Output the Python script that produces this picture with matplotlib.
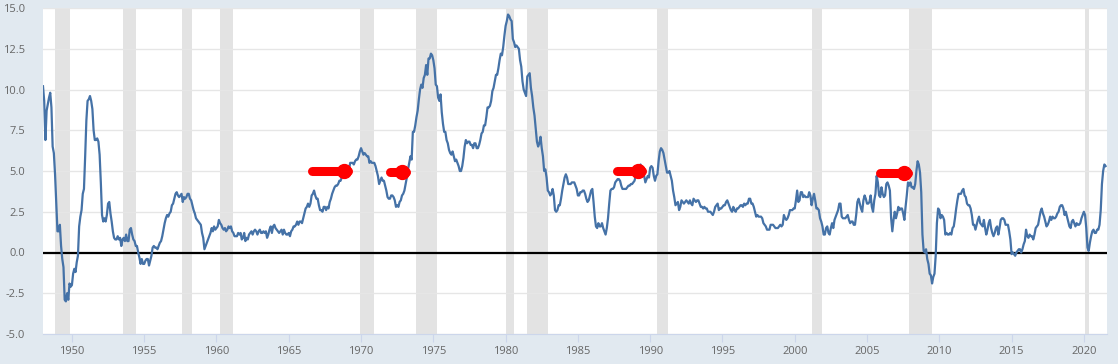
import matplotlib
matplotlib.use("Agg")
import matplotlib.pyplot as plt
import numpy as np

# CPI, percent change from a year ago, monthly from Jan 1948
cpi_1940s = [
    10.2, 9.3, 6.9, 8.7, 9.1, 9.5, 9.8, 8.9, 6.5, 6.1, 4.8, 3.0,   # 1948
    1.3, 1.3, 1.7, 0.4, -0.4, -0.9, -2.9, -3.0, -2.5, -2.9, -1.9, -2.1,  # 1949
]
cpi_1950s = [
    -2.0, -1.3, -1.0, -1.2, -0.6, -0.2, 1.6, 2.2, 2.6, 3.6, 3.9, 5.9,
    8.1, 9.3, 9.4, 9.6, 9.3, 8.8, 7.5, 6.9, 6.9, 7.0, 6.8, 6.0,
    4.3, 2.3, 1.9, 2.1, 1.9, 2.3, 3.0, 3.1, 2.4, 1.9, 1.3, 0.9,
    0.8, 0.8, 1.0, 0.8, 0.9, 0.4, 0.8, 0.9, 0.7, 1.1, 0.7, 0.7,
    1.4, 1.5, 1.1, 0.8, 0.7, 0.4, 0.4, 0.0, -0.3, -0.7, -0.4, -0.7,
    -0.7, -0.5, -0.4, -0.4, -0.8, -0.5, -0.2, 0.3, 0.4, 0.3, 0.3, 0.2,
    0.4, 0.6, 0.7, 1.0, 1.4, 1.8, 2.1, 2.3, 2.2, 2.4, 2.5, 2.9,
    3.0, 3.3, 3.6, 3.7, 3.5, 3.4, 3.5, 3.6, 3.1, 3.4, 3.3, 3.4,
    3.6, 3.6, 3.3, 3.2, 2.9, 2.6, 2.4, 2.1, 2.0, 1.9, 1.8, 1.7,
    1.2, 0.9, 0.2, 0.4, 0.6, 0.8, 1.0, 1.2, 1.5, 1.3, 1.6, 1.4,
]
cpi_1960s = [
    1.5, 1.6, 2.0, 1.8, 1.7, 1.5, 1.4, 1.5, 1.3, 1.4, 1.6, 1.5,
    1.6, 1.3, 1.2, 1.0, 1.0, 1.0, 1.2, 1.1, 1.2, 0.8, 0.9, 1.2,
    0.7, 0.9, 0.8, 1.1, 1.2, 1.3, 1.1, 1.3, 1.4, 1.3, 1.1, 1.3,
    1.4, 1.2, 1.2, 1.3, 1.2, 1.3, 0.9, 1.1, 1.4, 1.6, 1.2, 1.6,
    1.7, 1.5, 1.4, 1.3, 1.2, 1.3, 1.4, 1.1, 1.4, 1.2, 1.1, 1.1,
    1.2, 1.0, 1.3, 1.4, 1.6, 1.6, 1.7, 1.9, 1.7, 1.9, 1.9, 1.8,
    2.1, 2.4, 2.7, 2.8, 3.0, 2.8, 3.0, 3.5, 3.6, 3.8, 3.5, 3.3,
    3.3, 2.9, 2.6, 2.6, 2.5, 2.8, 2.8, 2.6, 2.8, 2.7, 3.1, 3.3,
    3.6, 3.8, 4.0, 4.1, 4.1, 4.2, 4.4, 4.4, 4.6, 4.7, 4.8, 4.8,
    4.7, 4.7, 5.1, 5.5, 5.5, 5.5, 5.4, 5.6, 5.7, 5.7, 5.9, 6.2,
]
cpi_1970s = [
    6.4, 6.2, 6.0, 6.1, 6.0, 5.9, 5.9, 5.5, 5.6, 5.5, 5.5, 5.5,
    5.3, 5.0, 4.7, 4.2, 4.4, 4.6, 4.4, 4.4, 4.1, 3.8, 3.4, 3.3,
    3.3, 3.5, 3.5, 3.4, 3.2, 2.8, 2.9, 2.8, 3.1, 3.2, 3.5, 3.6,
    3.8, 4.2, 4.6, 5.1, 5.5, 5.9, 5.7, 7.4, 7.4, 7.8, 8.3, 8.7,
    9.4, 10.0, 10.3, 10.1, 10.7, 10.9, 11.5, 10.9, 11.9, 11.9, 12.2, 12.1,
    11.8, 11.3, 10.3, 10.2, 9.5, 9.3, 9.7, 8.6, 7.9, 7.4, 7.4, 6.9,
    6.7, 6.3, 6.1, 6.0, 6.2, 5.9, 5.6, 5.7, 5.5, 5.3, 5.0, 5.0,
    5.3, 5.8, 6.5, 6.9, 6.7, 6.8, 6.8, 6.6, 6.6, 6.4, 6.7, 6.7,
    6.4, 6.4, 6.6, 6.9, 7.3, 7.4, 7.8, 7.8, 8.3, 8.9, 8.9, 9.0,
    9.3, 9.9, 10.1, 10.5, 10.9, 10.9, 11.3, 11.8, 12.2, 12.1, 12.6, 13.3,
]
cpi_1980s = [
    13.9, 14.2, 14.6, 14.5, 14.3, 14.2, 13.1, 12.9, 12.6, 12.7, 12.6, 12.5,
    11.8, 11.4, 10.5, 10.0, 9.8, 9.6, 10.8, 10.9, 11.0, 10.1, 9.6, 8.9,
    8.4, 7.6, 6.8, 6.5, 6.7, 7.1, 6.4, 5.9, 5.0, 5.1, 4.6, 3.8,
    3.7, 3.5, 3.6, 3.9, 3.5, 2.6, 2.5, 2.6, 2.9, 2.9, 3.3, 3.8,
    4.2, 4.6, 4.8, 4.6, 4.2, 4.2, 4.2, 4.3, 4.3, 4.3, 4.1, 3.9,
    3.5, 3.5, 3.7, 3.7, 3.8, 3.8, 3.6, 3.3, 3.1, 3.2, 3.5, 3.8,
    3.9, 3.1, 2.2, 1.6, 1.5, 1.8, 1.6, 1.6, 1.8, 1.5, 1.3, 1.1,
    1.5, 2.1, 3.0, 3.8, 3.9, 3.9, 4.0, 4.3, 4.4, 4.5, 4.5, 4.4,
    4.1, 3.9, 3.9, 3.9, 3.9, 4.0, 4.1, 4.1, 4.2, 4.2, 4.3, 4.4,
    4.7, 4.8, 5.0, 5.1, 5.4, 5.2, 5.0, 4.7, 4.3, 4.5, 4.7, 4.6,
]
cpi_1990s = [
    5.2, 5.3, 5.2, 4.7, 4.4, 4.7, 4.8, 5.6, 6.2, 6.4, 6.3, 6.1,
    5.7, 5.3, 4.9, 4.9, 5.0, 4.7, 4.4, 3.8, 3.4, 2.9, 3.0, 3.1,
    2.6, 2.8, 3.2, 3.1, 3.0, 3.1, 3.2, 3.1, 3.0, 3.2, 3.0, 2.9,
    3.3, 3.2, 3.1, 3.2, 3.2, 3.0, 2.8, 2.8, 2.7, 2.8, 2.7, 2.7,
    2.5, 2.5, 2.5, 2.4, 2.3, 2.5, 2.8, 2.9, 3.0, 2.6, 2.7, 2.7,
    2.8, 2.9, 2.9, 3.1, 3.2, 3.0, 2.8, 2.6, 2.5, 2.8, 2.6, 2.5,
    2.7, 2.7, 2.8, 2.9, 2.9, 2.8, 3.0, 2.9, 3.0, 3.0, 3.3, 3.3,
    3.0, 3.0, 2.8, 2.5, 2.2, 2.3, 2.2, 2.2, 2.2, 2.1, 1.8, 1.7,
    1.6, 1.4, 1.4, 1.4, 1.7, 1.7, 1.7, 1.6, 1.5, 1.5, 1.5, 1.6,
    1.7, 1.6, 1.7, 2.3, 2.1, 2.0, 2.1, 2.3, 2.6, 2.6, 2.6, 2.7,
]
cpi_2000s = [
    2.7, 3.2, 3.8, 3.1, 3.2, 3.7, 3.7, 3.4, 3.5, 3.4, 3.4, 3.4,
    3.7, 3.5, 2.9, 3.3, 3.6, 3.2, 2.7, 2.7, 2.6, 2.1, 1.9, 1.6,
    1.1, 1.1, 1.5, 1.6, 1.2, 1.1, 1.5, 1.8, 1.5, 2.0, 2.2, 2.4,
    2.6, 3.0, 3.0, 2.2, 2.1, 2.1, 2.1, 2.2, 2.3, 2.0, 1.8, 1.9,
    1.9, 1.7, 1.7, 2.3, 3.1, 3.3, 3.0, 2.7, 2.5, 3.2, 3.5, 3.3,
    3.0, 3.0, 3.1, 3.5, 2.8, 2.5, 3.2, 3.6, 4.7, 4.3, 3.5, 3.4,
    4.0, 3.6, 3.4, 3.5, 4.2, 4.3, 4.1, 3.8, 2.1, 1.3, 2.0, 2.5,
    2.1, 2.4, 2.8, 2.6, 2.7, 2.7, 2.4, 2.0, 2.8, 3.5, 4.3, 4.1,
    4.3, 4.0, 4.0, 3.9, 4.2, 5.0, 5.6, 5.4, 4.9, 3.7, 1.1, 0.1,
    0.0, 0.2, -0.4, -0.7, -1.3, -1.4, -1.9, -1.5, -1.3, -0.2, 1.8, 2.7,
]
cpi_2010s = [
    2.6, 2.1, 2.3, 2.2, 2.0, 1.1, 1.2, 1.1, 1.1, 1.2, 1.1, 1.5,
    1.6, 2.1, 2.7, 3.2, 3.6, 3.6, 3.6, 3.8, 3.9, 3.5, 3.4, 3.0,
    2.9, 2.9, 2.7, 2.3, 1.7, 1.7, 1.4, 1.7, 2.0, 2.2, 1.8, 1.7,
    1.6, 2.0, 1.5, 1.1, 1.4, 1.8, 2.0, 1.5, 1.2, 1.0, 1.2, 1.5,
    1.6, 1.1, 1.5, 2.0, 2.1, 2.1, 2.0, 1.7, 1.7, 1.7, 1.3, 0.8,
    -0.1, 0.0, -0.1, -0.2, 0.0, 0.1, 0.2, 0.2, 0.0, 0.2, 0.5, 0.7,
    1.4, 1.0, 0.9, 1.1, 1.0, 1.0, 0.8, 1.1, 1.5, 1.6, 1.7, 2.1,
    2.5, 2.7, 2.4, 2.2, 1.9, 1.6, 1.7, 1.9, 2.2, 2.0, 2.2, 2.1,
    2.1, 2.2, 2.4, 2.5, 2.8, 2.9, 2.9, 2.7, 2.3, 2.5, 2.2, 1.9,
    1.6, 1.5, 1.9, 2.0, 1.8, 1.6, 1.8, 1.7, 1.7, 1.8, 2.1, 2.3,
]
cpi_2020s = [
    2.5, 2.3, 1.5, 0.3, 0.1, 0.6, 1.0, 1.3, 1.4, 1.2, 1.2, 1.4,
    1.4, 1.7, 2.6, 4.2, 5.0, 5.4, 5.3,
]

# NBER recessions (start year, start month, end year, end month)
rec_start_year = [1948, 1953, 1957, 1960, 1969, 1973, 1980, 1981, 1990, 2001, 2007, 2020]
rec_start_month = [11, 7, 8, 4, 12, 11, 1, 7, 7, 3, 12, 2]
rec_end_year = [1949, 1954, 1958, 1961, 1970, 1975, 1980, 1982, 1991, 2001, 2009, 2020]
rec_end_month = [10, 5, 4, 2, 11, 3, 7, 11, 3, 11, 6, 4]

# hand-drawn red marks on the screenshot (start year, end year, level)
mark_x0 = [1966.6, 1972.0, 1987.7, 2005.9]
mark_x1 = [1969.1, 1973.1, 1989.4, 2007.8]
mark_y = [4.97, 4.95, 5.0, 4.85]

yticks = [-5.0, -2.5, 0.0, 2.5, 5.0, 7.5, 10.0, 12.5, 15.0]
xticks = [1950, 1955, 1960, 1965, 1970, 1975, 1980, 1985, 1990, 1995, 2000, 2005, 2010, 2015, 2020]

cpi = np.array(cpi_1940s + cpi_1950s + cpi_1960s + cpi_1970s + cpi_1980s
               + cpi_1990s + cpi_2000s + cpi_2010s + cpi_2020s)
t = 1948 + np.arange(len(cpi)) / 12.0

plt.rcParams["font.family"] = ["Open Sans", "DejaVu Sans"]

fig = plt.figure(figsize=(11.18, 3.64), dpi=100, facecolor="#e1e9f0")
ax = fig.add_axes([43 / 1118, 30 / 364, 1064 / 1118, 326 / 364])
ax.set_facecolor("white")

for sy, sm, ey, em in zip(rec_start_year, rec_start_month, rec_end_year, rec_end_month):
    ax.axvspan(sy + (sm - 1) / 12, ey + em / 12, color="#e3e3e3", lw=0, zorder=0)

ax.set_ylim(-5, 15)
ax.set_xlim(1948.0, 2021.6)
ax.set_yticks(yticks)
ax.set_yticklabels([f"{v:.1f}" for v in yticks])
ax.set_xticks(xticks)
ax.grid(axis="y", color="#e6e6e6", lw=1.0, zorder=0.5)
ax.set_axisbelow(True)

ax.axhline(0, color="black", lw=1.6, zorder=2)
ax.plot(t, cpi, color="#4572a7", lw=1.6, zorder=3)

for x0, x1, y in zip(mark_x0, mark_x1, mark_y):
    ax.plot([x0, x1], [y, y], color="#ff0000", lw=6.5, solid_capstyle="round", zorder=4)
    ax.plot([x1 - 0.25], [y], "o", color="#ff0000", ms=10, zorder=4)

for s in ["top", "right", "left"]:
    ax.spines[s].set_visible(False)
ax.spines["bottom"].set_color("#ccd6eb")
ax.tick_params(axis="y", length=0, pad=13, labelsize=8, labelcolor="#666666")
ax.tick_params(axis="x", length=6, color="#ccd6eb", pad=3, labelsize=8, labelcolor="#666666")

fig.savefig("out.png", dpi=100, facecolor=fig.get_facecolor())
